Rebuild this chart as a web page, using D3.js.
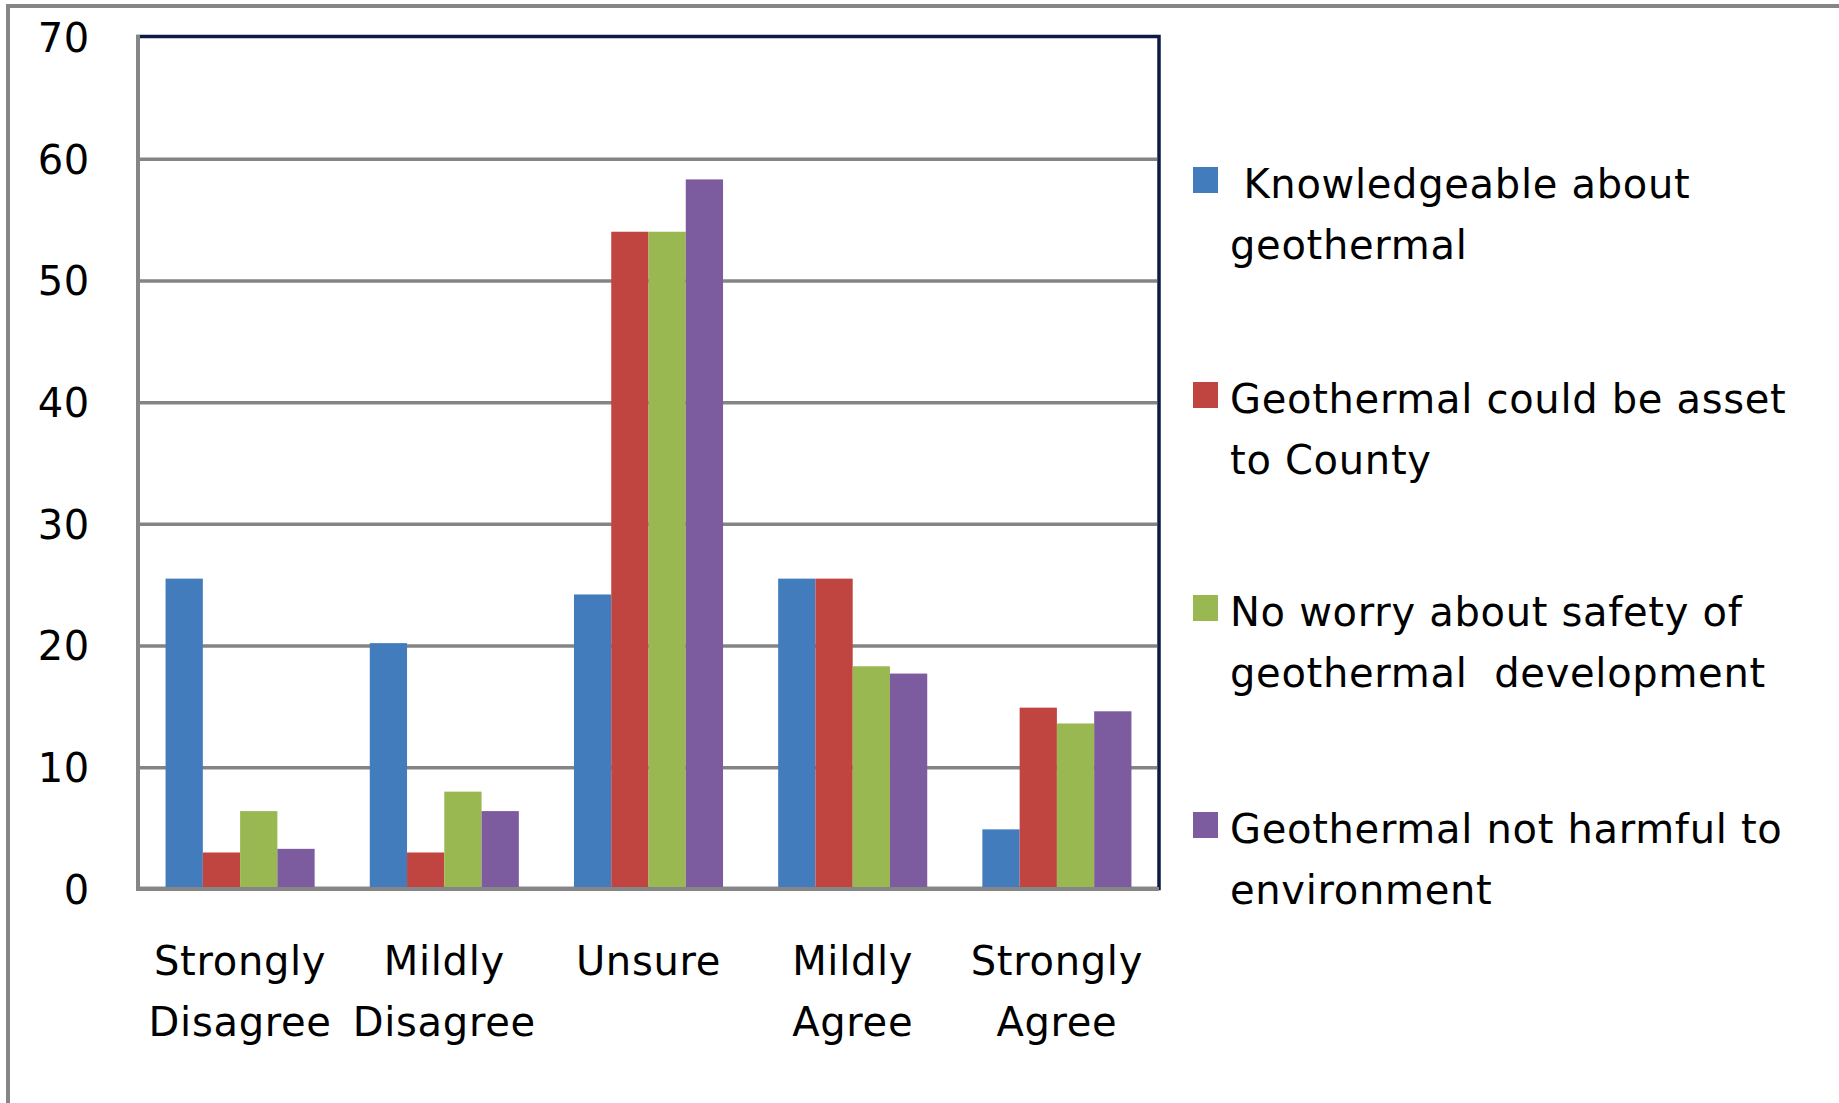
<!DOCTYPE html>
<html>
<head>
<meta charset="utf-8">
<script src="https://cdn.jsdelivr.net/npm/d3@7"></script>
<style>
html, body { margin: 0; padding: 0; background: #fff; }
svg { display: block; }
text { font-family: "DejaVu Sans", Verdana, sans-serif; fill: #000; white-space: pre; letter-spacing: 0.7px; }
</style>
</head>
<body>
<svg id="chart" width="1839" height="1103"></svg>
<script>
// ---- data ----
const categories = [["Strongly", "Disagree"], ["Mildly", "Disagree"], ["Unsure"], ["Mildly", "Agree"], ["Strongly", "Agree"]];
const seriesNames = [
  [" Knowledgeable about", "geothermal"],
  ["Geothermal could be asset", "to County"],
  ["No worry about safety of", "geothermal  development"],
  ["Geothermal not harmful to", "environment"]
];
const knowledgeable = [25.5, 20.2, 24.2, 25.5, 4.9];
const asset = [3, 3, 54, 25.5, 14.9];
const noWorry = [6.4, 8, 54, 18.3, 13.6];
const notHarmful = [3.3, 6.4, 58.3, 17.7, 14.6];
const yTicks = [0, 10, 20, 30, 40, 50, 60, 70];
const colors = ["#427CBD", "#C04541", "#9AB851", "#7C5C9E"];

const seriesValues = [knowledgeable, asset, noWorry, notHarmful];
const catKeys = categories.map(c => c.join(" "));

// ---- layout ----
const svg = d3.select("#chart");
const plot = { left: 138, right: 1159, top: 37, bottom: 889 };

const y = d3.scaleLinear().domain([0, 70]).range([plot.bottom, plot.top]);
const x0 = d3.scaleBand().domain(catKeys).range([plot.left, plot.right]).paddingInner(0.27).paddingOuter(0.135);
const x1 = d3.scaleBand().domain(d3.range(4)).range([0, x0.bandwidth()]);

// outer frame (top + left only)
svg.append("line").attr("x1", 6).attr("x2", 1839).attr("y1", 6).attr("y2", 6).attr("stroke", "#868686").attr("stroke-width", 4);
svg.append("line").attr("x1", 8).attr("x2", 8).attr("y1", 4).attr("y2", 1103).attr("stroke", "#868686").attr("stroke-width", 4);

// plot area border (navy)
svg.append("rect")
  .attr("x", plot.left).attr("y", plot.top - 0.5)
  .attr("width", plot.right - plot.left).attr("height", plot.bottom - plot.top)
  .attr("fill", "none").attr("stroke", "#0D1A45").attr("stroke-width", 3.5);

// gridlines via axis
const grid = svg.append("g").attr("transform", `translate(${plot.left},0)`)
  .call(d3.axisLeft(y).tickValues(yTicks.filter(d => d > 0 && d < 70)).tickSize(-(plot.right - plot.left - 2)).tickFormat(""));
grid.select(".domain").remove();
grid.selectAll(".tick line").attr("stroke", "#848484").attr("stroke-width", 3.5);

// bars
const groups = svg.append("g").selectAll("g").data(catKeys).join("g")
  .attr("transform", d => `translate(${x0(d)},0)`);
groups.selectAll("rect")
  .data((d, i) => seriesValues.map((s, k) => ({ k, v: s[i] })))
  .join("rect")
  .attr("x", d => x1(d.k))
  .attr("width", x1.bandwidth())
  .attr("y", d => y(d.v))
  .attr("height", d => y(0) - y(d.v))
  .attr("fill", d => colors[d.k]);

// axes lines (gray, left and bottom)
svg.append("line").attr("x1", plot.left).attr("x2", plot.left).attr("y1", plot.top - 2).attr("y2", plot.bottom + 2)
  .attr("stroke", "#868686").attr("stroke-width", 4);
svg.append("line").attr("x1", plot.left - 2).attr("x2", plot.right).attr("y1", plot.bottom).attr("y2", plot.bottom)
  .attr("stroke", "#868686").attr("stroke-width", 4);

// y axis labels
const yAxis = svg.append("g").attr("transform", `translate(90,0)`)
  .call(d3.axisLeft(y).tickValues(yTicks).tickSize(0).tickPadding(0));
yAxis.select(".domain").remove();
yAxis.selectAll(".tick text")
  .attr("font-family", "DejaVu Sans")
  .attr("font-size", 40)
  .attr("fill", "#000")
  .attr("dy", "0.36em")
  .attr("x", 0);

// category labels
const catLabels = svg.append("g").selectAll("text").data(categories).join("text")
  .attr("text-anchor", "middle")
  .attr("font-size", 40)
  .attr("x", (d, i) => x0(catKeys[i]) + x0.bandwidth() / 2)
  .attr("y", 975);
catLabels.selectAll("tspan").data(d => d).join("tspan")
  .attr("x", function () { return d3.select(this.parentNode).attr("x"); })
  .attr("dy", (d, i) => i === 0 ? 0 : 61)
  .text(d => d);

// legend
const legendBaselines = [198, 413, 626, 843];
const legend = svg.append("g").selectAll("g").data(seriesNames).join("g");
legend.append("rect")
  .attr("x", 1193).attr("y", (d, i) => legendBaselines[i] - 31)
  .attr("width", 25).attr("height", 26)
  .attr("fill", (d, i) => colors[i]);
const lt = legend.append("text")
  .attr("font-size", 40)
  .attr("y", (d, i) => legendBaselines[i]);
lt.selectAll("tspan").data(d => d).join("tspan")
  .attr("x", 1230)
  .attr("dy", (d, i) => i === 0 ? 0 : 61)
  .text(d => d);
</script>
</body>
</html>
